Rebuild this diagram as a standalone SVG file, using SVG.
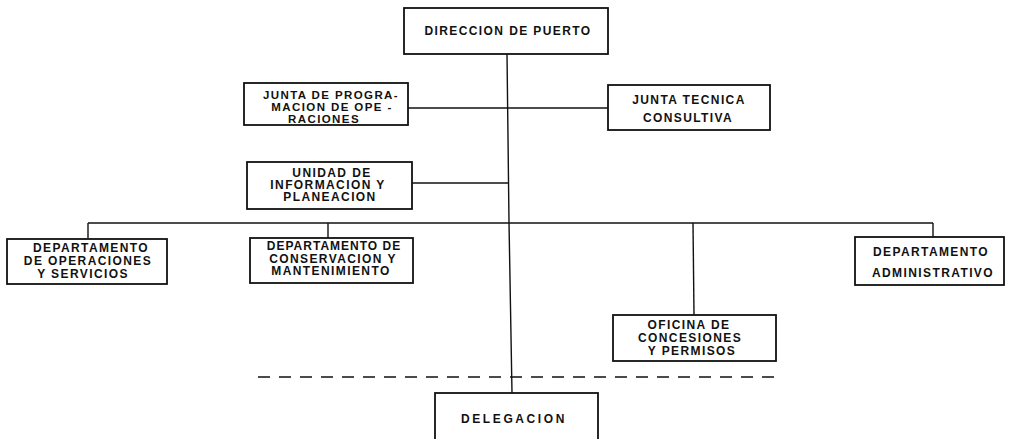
<svg xmlns="http://www.w3.org/2000/svg" width="1010" height="439" viewBox="0 0 1010 439">
<style>
.box{fill:#fff;stroke:#111;stroke-width:1.8}
.ln{fill:none;stroke:#111;stroke-width:1.4}
.dash{fill:none;stroke:#111;stroke-width:1.4;stroke-dasharray:12 9}
text{font-family:"Liberation Sans",Arial,sans-serif;font-weight:bold;font-size:12px;letter-spacing:1.4px;fill:#111;text-anchor:middle}
.sm{font-size:11.5px}
</style>
<rect width="1010" height="439" fill="#fff"/>
<g id="connectors">
<polyline class="ln" points="507,54 509,222 512,393"/>
<line class="ln" x1="408" y1="108" x2="608" y2="108"/>
<line class="ln" x1="412" y1="183" x2="508" y2="183"/>
<line class="ln" x1="88" y1="223" x2="933" y2="223"/>
<line class="ln" x1="88" y1="223" x2="88" y2="238"/>
<line class="ln" x1="328" y1="223" x2="328" y2="238"/>
<line class="ln" x1="693" y1="223" x2="694" y2="315"/>
<line class="ln" x1="933" y1="223" x2="933" y2="237"/>
<line class="dash" x1="258" y1="377" x2="782" y2="377"/>
</g>
<g id="direccion">
<rect class="box" x="404" y="8" width="204" height="46"/>
<text x="508" y="35">DIRECCION DE PUERTO</text>
</g>
<g id="junta-programacion">
<rect class="box" x="244" y="83" width="164" height="42"/>
<text class="sm" x="331" y="99">JUNTA DE PROGRA-</text>
<text class="sm" x="332" y="111">MACION DE OPE -</text>
<text class="sm" x="324" y="123">RACIONES</text>
</g>
<g id="junta-tecnica">
<rect class="box" x="608" y="85" width="162" height="45"/>
<text x="689" y="104">JUNTA TECNICA</text>
<text x="688" y="122">CONSULTIVA</text>
</g>
<g id="unidad">
<rect class="box" x="247" y="162" width="165" height="47"/>
<text x="332" y="177">UNIDAD DE</text>
<text x="328" y="189">INFORMACION Y</text>
<text x="330" y="201">PLANEACION</text>
</g>
<g id="dep-operaciones">
<rect class="box" x="7" y="239" width="160" height="45"/>
<text x="91" y="252">DEPARTAMENTO</text>
<text x="88" y="265">DE OPERACIONES</text>
<text x="83" y="278">Y SERVICIOS</text>
</g>
<g id="dep-conservacion">
<rect class="box" x="250" y="238" width="163" height="45"/>
<text x="334" y="250" style="letter-spacing:1px">DEPARTAMENTO DE</text>
<text x="333" y="262.5">CONSERVACION Y</text>
<text x="331" y="275">MANTENIMIENTO</text>
</g>
<g id="dep-administrativo">
<rect class="box" x="855" y="237" width="149" height="48"/>
<text x="931" y="256">DEPARTAMENTO</text>
<text x="933" y="277">ADMINISTRATIVO</text>
</g>
<g id="oficina">
<rect class="box" x="613" y="315" width="163" height="46"/>
<text x="689" y="329">OFICINA DE</text>
<text x="690" y="342">CONCESIONES</text>
<text x="692" y="355">Y PERMISOS</text>
</g>
<g id="delegacion">
<rect class="box" x="435" y="393" width="163" height="60"/>
<text x="514" y="423" style="letter-spacing:2.6px">DELEGACION</text>
</g>
</svg>
